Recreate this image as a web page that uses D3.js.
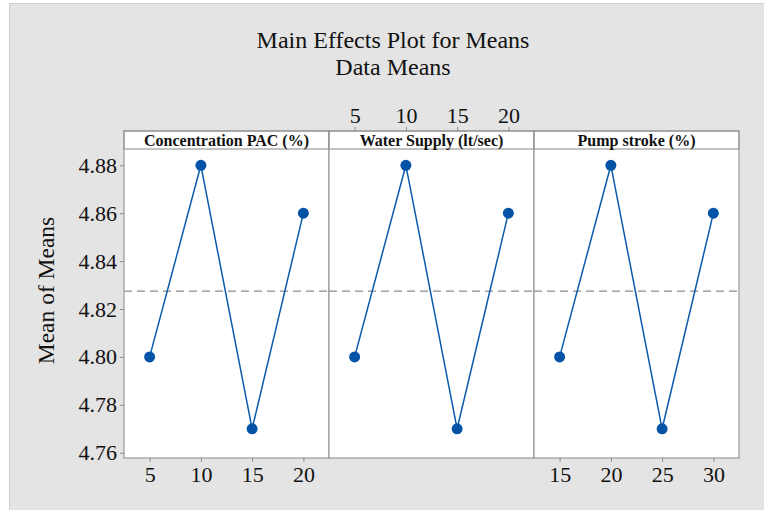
<!DOCTYPE html>
<html>
<head>
<meta charset="utf-8">
<script src="https://cdn.jsdelivr.net/npm/d3@7"></script>
<style>
  body { margin: 0; background: #fff; }
  svg { display: block; font-family: "Liberation Serif", "Times New Roman", serif; }
</style>
</head>
<body>
<div id="chart"></div>
<script>
// data
const factors = ["Concentration PAC (%)", "Water Supply (lt/sec)", "Pump stroke (%)"];
const levels = [[5, 10, 15, 20], [5, 10, 15, 20], [15, 20, 25, 30]];
const means = [[4.80, 4.88, 4.77, 4.86], [4.80, 4.88, 4.77, 4.86], [4.80, 4.88, 4.77, 4.86]];
const yTicks = [4.76, 4.78, 4.80, 4.82, 4.84, 4.86, 4.88];
const grandMean = 4.8275;

const width = 764, height = 510;
const plotLeft = 124, panelW = 205, plotTop = 131, headH = 18, plotBottom = 458;

const svg = d3.select("#chart").append("svg")
    .attr("width", width).attr("height", height);

// grey background
svg.append("rect")
    .attr("x", 9.5).attr("y", 3.5).attr("width", width).attr("height", height)
    .attr("fill", "#e4e4e4").attr("stroke", "#cfcfcf");

// titles
svg.append("text").attr("x", 393).attr("y", 48).attr("text-anchor", "middle")
    .attr("font-size", 24).attr("fill", "#111").text("Main Effects Plot for Means");
svg.append("text").attr("x", 393).attr("y", 75).attr("text-anchor", "middle")
    .attr("font-size", 24).attr("fill", "#111").text("Data Means");

const y = d3.scaleLinear().domain([4.7578, 4.8868]).range([plotBottom, plotTop + headH]);

// y axis
const yAxis = svg.append("g").attr("transform", `translate(${plotLeft},0)`)
    .call(d3.axisLeft(y).tickValues(yTicks).tickFormat(d3.format(".2f")).tickSize(4).tickPadding(3));
yAxis.select(".domain").remove();
yAxis.selectAll("line").attr("stroke", "#888");
yAxis.selectAll("text").attr("font-size", 22).attr("fill", "#111")
    .attr("font-family", "Liberation Serif, serif");

svg.append("text")
    .attr("transform", `translate(54,${(plotTop + plotBottom) / 2 - 4}) rotate(-90)`)
    .attr("text-anchor", "middle").attr("font-size", 23.5).attr("fill", "#111")
    .text("Mean of Means");

factors.forEach((name, i) => {
    const x0 = plotLeft + i * panelW;
    const lv = levels[i];
    const step = lv[1] - lv[0];
    const x = d3.scaleLinear()
        .domain([lv[0] - step / 2, lv[lv.length - 1] + step / 2])
        .range([x0, x0 + panelW]);

    // plot area
    svg.append("rect").attr("x", x0).attr("y", plotTop + headH)
        .attr("width", panelW).attr("height", plotBottom - plotTop - headH)
        .attr("fill", "#fff");
    // header strip
    svg.append("rect").attr("x", x0).attr("y", plotTop)
        .attr("width", panelW).attr("height", headH)
        .attr("fill", "#fff").attr("stroke", "#999").attr("stroke-width", 1.2);
    svg.append("text").attr("x", x0 + panelW / 2).attr("y", plotTop + headH / 2 + 5.5)
        .attr("text-anchor", "middle").attr("font-size", 16).attr("font-weight", "bold")
        .attr("fill", "#111").text(name);

    // reference line
    svg.append("line")
        .attr("x1", x0).attr("x2", x0 + panelW)
        .attr("y1", y(grandMean)).attr("y2", y(grandMean))
        .attr("stroke", "#8c8c8c").attr("stroke-width", 1.2).attr("stroke-dasharray", "8,5");

    // panel border
    svg.append("rect").attr("x", x0).attr("y", plotTop)
        .attr("width", panelW).attr("height", plotBottom - plotTop)
        .attr("fill", "none").attr("stroke", "#999").attr("stroke-width", 1.2);

    // x axis: alternating bottom / top
    const isTop = i === 1;
    const ax = svg.append("g")
        .attr("transform", `translate(0,${isTop ? plotTop : plotBottom})`)
        .call((isTop ? d3.axisTop(x) : d3.axisBottom(x)).tickValues(lv).tickSize(4).tickPadding(4));
    ax.select(".domain").remove();
    ax.selectAll("line").attr("stroke", "#888");
    ax.selectAll("text").attr("font-size", 22).attr("fill", "#111")
        .attr("font-family", "Liberation Serif, serif");

    const pts = lv.map((v, j) => [v, means[i][j]]);
    svg.append("path").datum(pts)
        .attr("fill", "none").attr("stroke", "#0a5bab").attr("stroke-width", 1.5)
        .attr("d", d3.line().x(d => x(d[0])).y(d => y(d[1])));
    svg.selectAll(null).data(pts).enter().append("circle")
        .attr("cx", d => x(d[0])).attr("cy", d => y(d[1])).attr("r", 5.5)
        .attr("fill", "#0553a6");
});
</script>
</body>
</html>
